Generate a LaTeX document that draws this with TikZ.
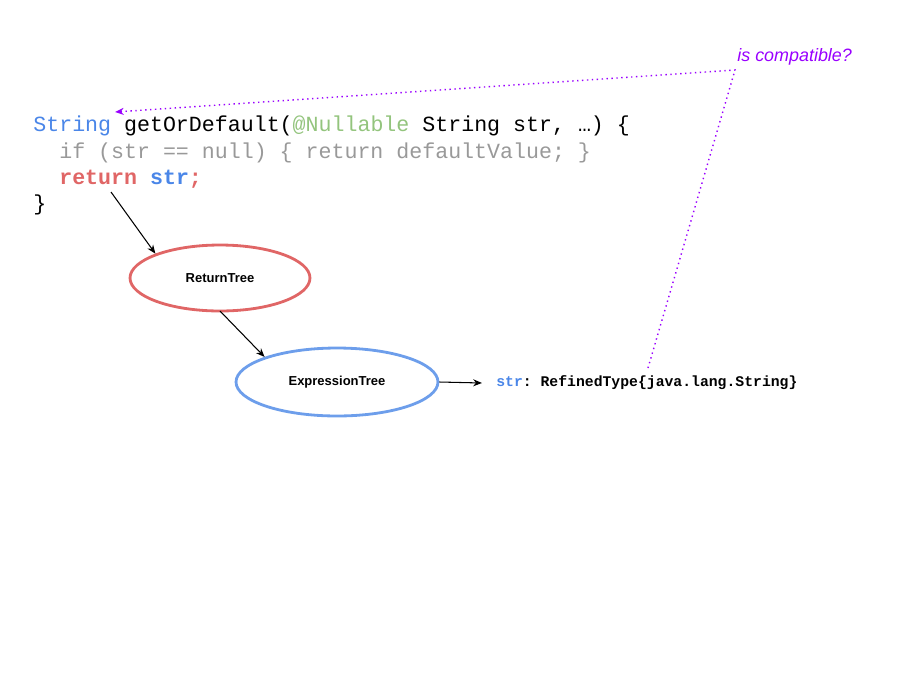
\documentclass[tikz,border=0pt]{standalone}
\usepackage{fontspec}
\setmainfont{Liberation Sans}
\setmonofont{Liberation Mono}
\usetikzlibrary{arrows.meta,shapes.geometric}
\definecolor{cblue}{HTML}{4A86E8}
\definecolor{cgreen}{HTML}{93C47D}
\definecolor{cgray}{HTML}{999999}
\definecolor{cred}{HTML}{E06666}
\definecolor{eblue}{HTML}{6D9EEB}
\definecolor{cpurple}{HTML}{9900FF}
\begin{document}
\begin{tikzpicture}[x=0.02cm,y=-0.02cm,
  code/.style={anchor=base west,inner sep=0,font=\fontsize{12.3}{14}\ttfamily},
  ell/.style={ellipse,draw,line width=1.6pt,inner sep=0,font=\fontsize{7.4}{9}\bfseries},
  arr/.style={-{Stealth[length=5pt,width=4pt]},line width=0.6pt}]
\useasboundingbox (0,0) rectangle (916,687);
\node[code] (l1) at (33,131) {\textcolor{cblue}{String} getOrDefault(\textcolor{cgreen}{@Nullable} String str, …) \{};
\node[code,text=cgray] (l2) at (33,158) {\ \ if (str == null) \{ return defaultValue; \}};
\node[code] (l3) at (33,184) {\ \ \textcolor{cred}{\bfseries return} \textcolor{cblue}{\bfseries str}\textcolor{cred}{\bfseries;}};
\node[code] (l4) at (33,210) {\}};
\node[ell,draw=cred,minimum width=3.6cm,minimum height=1.32cm] (rt) at (220,278) {ReturnTree};
\node[ell,draw=eblue,minimum width=4.04cm,minimum height=1.36cm] (et) at (337,382) {ExpressionTree};
\node[anchor=west,inner sep=0,font=\fontsize{8.4}{10}\ttfamily\bfseries] (ty) at (496,383) {\textcolor{cblue}{str}: RefinedType\{java.lang.String\}};
\node[anchor=west,inner sep=0,text=cpurple,font=\fontsize{10.2}{12}\itshape] (ic) at (737,57) {is compatible?};
\coordinate (s1) at (111,192);
\coordinate (p0) at (648,368);
\coordinate (p1) at (735,70);
\coordinate (p2) at (115,112);
\draw[arr] (s1) -- (rt.north west);
\draw[arr] (220,311) -- (et.north west);
\draw[arr] (et.east) -- ([xshift=-8]ty.west);
\draw[cpurple,dotted,line width=0.8pt,-{Stealth[length=5pt,width=4pt]}] (p0) -- (p1) -- (p2);
\end{tikzpicture}
\end{document}
